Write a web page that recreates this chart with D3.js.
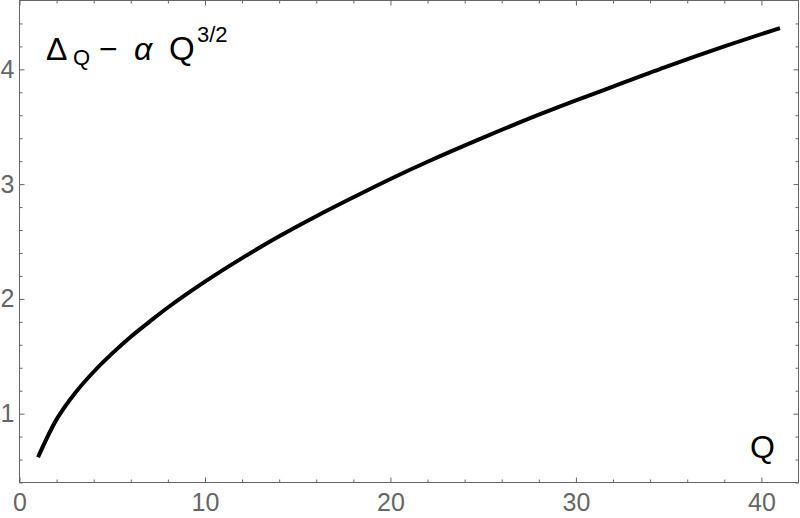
<!DOCTYPE html>
<html>
<head>
<meta charset="utf-8">
<script src="https://cdn.jsdelivr.net/npm/d3@7"></script>
<style>
  body { margin: 0; background: #fff; }
  svg { display: block; }
</style>
</head>
<body>
<script>
var width = 800
var height = 518

// values
var qValues = [1, 2, 3, 4, 5, 6, 7, 8, 10, 12, 14, 16, 18, 20, 22, 25, 28, 30, 32, 35, 38, 41]
var deltaValues = [0.62, 0.95, 1.18, 1.365, 1.525, 1.67, 1.80, 1.925, 2.15, 2.355, 2.545, 2.72, 2.885, 3.045, 3.195, 3.405, 3.605, 3.73, 3.85, 4.03, 4.20, 4.36]

var xMajor = [0, 10, 20, 30, 40]
var xMinor = [2, 4, 6, 8, 12, 14, 16, 18, 22, 24, 26, 28, 32, 34, 36, 38]
var yMajor = [1, 2, 3, 4]
var yMinor = [0.4, 0.6, 0.8, 1.2, 1.4, 1.6, 1.8, 2.2, 2.4, 2.6, 2.8, 3.2, 3.4, 3.6, 3.8, 4.2, 4.4]

var frameColor = '#666'
var labelFont = "'Liberation Sans', Arial, sans-serif"
var intFormat = d3.format('d')

var svg = d3.select('body').append('svg')
    .attr('width', width)
    .attr('height', height)

var x = d3.scaleLinear().domain([0, 42]).range([19.5, 798.5])
var y = d3.scaleLinear().domain([0.4, 4.6]).range([482.5, 0.5])

function styleAxis(g) {
    g.select('.domain').remove()
    g.selectAll('.tick line').attr('stroke', frameColor).attr('stroke-width', 1)
    g.selectAll('.tick text')
        .attr('fill', frameColor)
        .style('font-family', labelFont)
        .style('font-size', '25px')
}

// bottom axis
svg.append('g')
    .attr('transform', 'translate(0,' + y(0.4) + ')')
    .call(d3.axisBottom(x).tickValues(xMajor).tickFormat(intFormat).tickSizeInner(-5).tickSizeOuter(0).tickPadding(11))
    .call(styleAxis)
svg.append('g')
    .attr('transform', 'translate(0,' + y(0.4) + ')')
    .call(d3.axisBottom(x).tickValues(xMinor).tickSizeInner(-3).tickSizeOuter(0).tickFormat(''))
    .call(styleAxis)

// top axis (no labels)
svg.append('g')
    .attr('transform', 'translate(0,' + y(4.6) + ')')
    .call(d3.axisTop(x).tickValues(xMajor).tickSizeInner(-5).tickSizeOuter(0).tickFormat(''))
    .call(styleAxis)
svg.append('g')
    .attr('transform', 'translate(0,' + y(4.6) + ')')
    .call(d3.axisTop(x).tickValues(xMinor).tickSizeInner(-3).tickSizeOuter(0).tickFormat(''))
    .call(styleAxis)

// left axis
svg.append('g')
    .attr('transform', 'translate(' + x(0) + ',0)')
    .call(d3.axisLeft(y).tickValues(yMajor).tickFormat(intFormat).tickSizeInner(-5).tickSizeOuter(0).tickPadding(5))
    .call(styleAxis)
svg.append('g')
    .attr('transform', 'translate(' + x(0) + ',0)')
    .call(d3.axisLeft(y).tickValues(yMinor).tickSizeInner(-3).tickSizeOuter(0).tickFormat(''))
    .call(styleAxis)

// right axis (no labels)
svg.append('g')
    .attr('transform', 'translate(' + x(42) + ',0)')
    .call(d3.axisRight(y).tickValues(yMajor).tickSizeInner(-5).tickSizeOuter(0).tickFormat(''))
    .call(styleAxis)
svg.append('g')
    .attr('transform', 'translate(' + x(42) + ',0)')
    .call(d3.axisRight(y).tickValues(yMinor).tickSizeInner(-3).tickSizeOuter(0).tickFormat(''))
    .call(styleAxis)

// frame
svg.append('rect')
    .attr('x', x(0))
    .attr('y', y(4.6))
    .attr('width', x(42) - x(0))
    .attr('height', y(0.4) - y(4.6))
    .attr('fill', 'none')
    .attr('stroke', frameColor)
    .attr('stroke-width', 1)

// curve
var line = d3.line()
    .x(function (d, i) { return x(qValues[i]) })
    .y(function (d) { return y(d) })
    .curve(d3.curveCatmullRom.alpha(0.5))

svg.append('path')
    .datum(deltaValues)
    .attr('d', line)
    .attr('fill', 'none')
    .attr('stroke', '#000')
    .attr('stroke-width', 4)

// plot label  Δ_Q − α Q^{3/2}
var label = svg.append('text')
    .style('font-family', labelFont)
    .attr('fill', '#000')
label.append('tspan').attr('x', 46).attr('y', 59.5).style('font-size', '32px').text('Δ')
label.append('tspan').attr('x', 73).attr('y', 64.5).style('font-size', '22px').text('Q')
label.append('tspan').attr('x', 99).attr('y', 59.5).style('font-size', '32px').text('−')
label.append('tspan').attr('x', 134).attr('y', 59.5).style('font-size', '32px').style('font-style', 'italic').text('α')
label.append('tspan').attr('x', 169).attr('y', 59.5).style('font-size', '33px').text('Q')
label.append('tspan').attr('x', 197).attr('y', 41.5).style('font-size', '22px').text('3/2')

// axis label
svg.append('text')
    .attr('x', 750)
    .attr('y', 458)
    .style('font-family', labelFont)
    .style('font-size', '32px')
    .attr('fill', '#000')
    .text('Q')
</script>
</body>
</html>
